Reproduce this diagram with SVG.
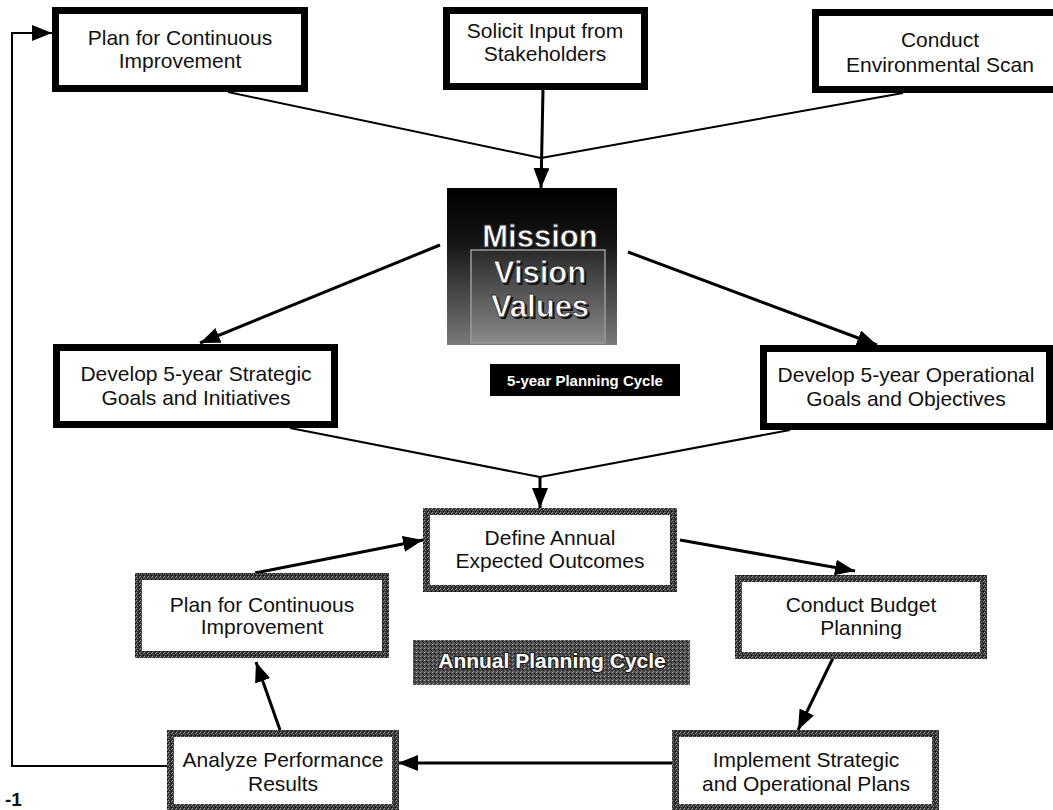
<svg xmlns="http://www.w3.org/2000/svg" width="1053" height="810" viewBox="0 0 1053 810">
<style>
.t{font-family:"Liberation Sans",Arial,sans-serif;font-size:21px;fill:#111;text-anchor:middle}
.bk{fill:#fff;stroke:#000;stroke-width:7}
.gy{fill:#fff;stroke:url(#speck);stroke-width:7}
.ln{fill:none;stroke:#000;stroke-width:2}
.ar{fill:none;stroke:#000;stroke-width:3;marker-end:url(#ah)}
.mv{font-family:"Liberation Sans",Arial,sans-serif;font-weight:bold;font-size:31px;text-anchor:middle}
</style>
<defs>
<marker id="ah" markerUnits="userSpaceOnUse" markerWidth="20" markerHeight="16" refX="20" refY="8" orient="auto" viewBox="0 0 20 16">
<path d="M0,0 L20,8 L0,16 z" fill="#000"/>
</marker>
<pattern id="speck" patternUnits="userSpaceOnUse" width="4" height="4">
<rect width="4" height="4" fill="#3a3a3a"/>
<rect x="0" y="0" width="1" height="1" fill="#9a9a9a"/>
<rect x="2" y="1" width="1" height="1" fill="#111"/>
<rect x="1" y="2" width="1" height="1" fill="#777"/>
<rect x="3" y="3" width="1" height="1" fill="#000"/>
<rect x="3" y="1" width="1" height="1" fill="#888"/>
</pattern>
<pattern id="speck2" patternUnits="userSpaceOnUse" width="4" height="4">
<rect width="4" height="4" fill="#4e4e4e"/>
<rect x="0" y="0" width="1" height="1" fill="#aaa"/>
<rect x="2" y="1" width="1" height="1" fill="#1a1a1a"/>
<rect x="1" y="3" width="1" height="1" fill="#888"/>
<rect x="3" y="2" width="1" height="1" fill="#222"/>
</pattern>
<linearGradient id="mg" x1="0" y1="0" x2="0" y2="1">
<stop offset="0" stop-color="#000"/>
<stop offset="0.35" stop-color="#151515"/>
<stop offset="1" stop-color="#7a7a7a"/>
</linearGradient>
<linearGradient id="mg2" x1="0" y1="0" x2="0" y2="1">
<stop offset="0" stop-color="#2a2a2a"/>
<stop offset="1" stop-color="#8a8a8a"/>
</linearGradient>
</defs>

<g id="connectors">
<line class="ln" x1="228" y1="92" x2="541" y2="158"/>
<line class="ln" x1="903" y1="93" x2="541" y2="158"/>
<line class="ar" x1="543" y1="90" x2="541" y2="188"/>
<line class="ar" x1="440" y1="245" x2="200" y2="343"/>
<line class="ar" x1="628" y1="252" x2="877" y2="345"/>
<line class="ln" x1="290" y1="428" x2="540" y2="477"/>
<line class="ln" x1="790" y1="430" x2="540" y2="477"/>
<line class="ar" x1="540" y1="476" x2="540" y2="508"/>
<line class="ar" x1="680" y1="540" x2="855" y2="571"/>
<line class="ar" x1="833" y1="658" x2="798" y2="730"/>
<line class="ar" x1="672" y1="763" x2="398" y2="763"/>
<line class="ar" x1="280" y1="730" x2="256" y2="662"/>
<line class="ar" x1="255" y1="573" x2="423" y2="540"/>
<polyline fill="none" stroke="#000" stroke-width="2" points="167,766 12,766 12,33 52,33" marker-end="url(#ah)"/>
</g>

<g id="n-plan-top">
<rect class="bk" x="55.5" y="10.5" width="249" height="78"/>
<text class="t" x="180" y="45">Plan for Continuous</text>
<text class="t" x="180" y="68">Improvement</text>
</g>
<g id="n-solicit">
<rect class="bk" x="446.5" y="10.5" width="198" height="76"/>
<text class="t" x="545" y="38">Solicit Input from</text>
<text class="t" x="545" y="61">Stakeholders</text>
</g>
<g id="n-scan">
<rect class="bk" x="815.5" y="12.5" width="250" height="77"/>
<text class="t" x="940" y="47">Conduct</text>
<text class="t" x="940" y="72">Environmental Scan</text>
</g>

<g id="n-mission">
<rect x="447" y="188" width="170" height="157" fill="url(#mg)"/>
<rect x="471" y="250" width="134" height="93" fill="url(#mg2)" stroke="#9a9a9a" stroke-width="1.5"/>
<g class="mv" fill="#111">
<text x="542" y="249">Mission</text>
<text x="542" y="285">Vision</text>
<text x="542" y="319">Values</text>
</g>
<g class="mv" fill="#fff" stroke="#333" stroke-width="0.8">
<text x="540" y="247">Mission</text>
<text x="540" y="283">Vision</text>
<text x="540" y="317">Values</text>
</g>
</g>

<g id="n-strategic">
<rect class="bk" x="56.5" y="347.5" width="278" height="77"/>
<text class="t" x="196" y="381">Develop 5-year Strategic</text>
<text class="t" x="196" y="405">Goals and Initiatives</text>
</g>
<g id="n-operational">
<rect class="bk" x="763.5" y="348.5" width="286" height="78"/>
<text class="t" x="906" y="382">Develop 5-year Operational</text>
<text class="t" x="906" y="406">Goals and Objectives</text>
</g>

<g id="n-5year-label">
<rect x="490" y="364" width="190" height="32" fill="#000"/>
<text x="585" y="386" font-family="'Liberation Sans',Arial,sans-serif" font-weight="bold" font-size="15" fill="#fff" text-anchor="middle">5-year Planning Cycle</text>
</g>

<g id="n-define">
<rect class="gy" x="426.5" y="511.5" width="247" height="77"/>
<text class="t" x="550" y="545">Define Annual</text>
<text class="t" x="550" y="568">Expected Outcomes</text>
</g>
<g id="n-plan-bottom">
<rect class="gy" x="138.5" y="576.5" width="247" height="78"/>
<text class="t" x="262" y="612">Plan for Continuous</text>
<text class="t" x="262" y="634">Improvement</text>
</g>
<g id="n-budget">
<rect class="gy" x="738.5" y="578.5" width="245" height="77"/>
<text class="t" x="861" y="612">Conduct Budget</text>
<text class="t" x="861" y="635">Planning</text>
</g>

<g id="n-annual-label">
<rect x="413" y="640" width="277" height="45" fill="url(#speck2)"/>
<text x="552" y="668" font-family="'Liberation Sans',Arial,sans-serif" font-weight="bold" font-size="21" fill="#fff" stroke="#222" stroke-width="2.5" paint-order="stroke" text-anchor="middle">Annual Planning Cycle</text>
</g>

<g id="n-analyze">
<rect class="gy" x="170.5" y="733.5" width="225" height="74"/>
<text class="t" x="283" y="767">Analyze Performance</text>
<text class="t" x="283" y="791">Results</text>
</g>
<g id="n-implement">
<rect class="gy" x="675.5" y="733.5" width="260" height="74"/>
<text class="t" x="806" y="767">Implement Strategic</text>
<text class="t" x="806" y="791">and Operational Plans</text>
</g>

<text x="5" y="806" font-family="'Liberation Sans',Arial,sans-serif" font-size="19" font-weight="bold" fill="#111">-1</text>
</svg>
